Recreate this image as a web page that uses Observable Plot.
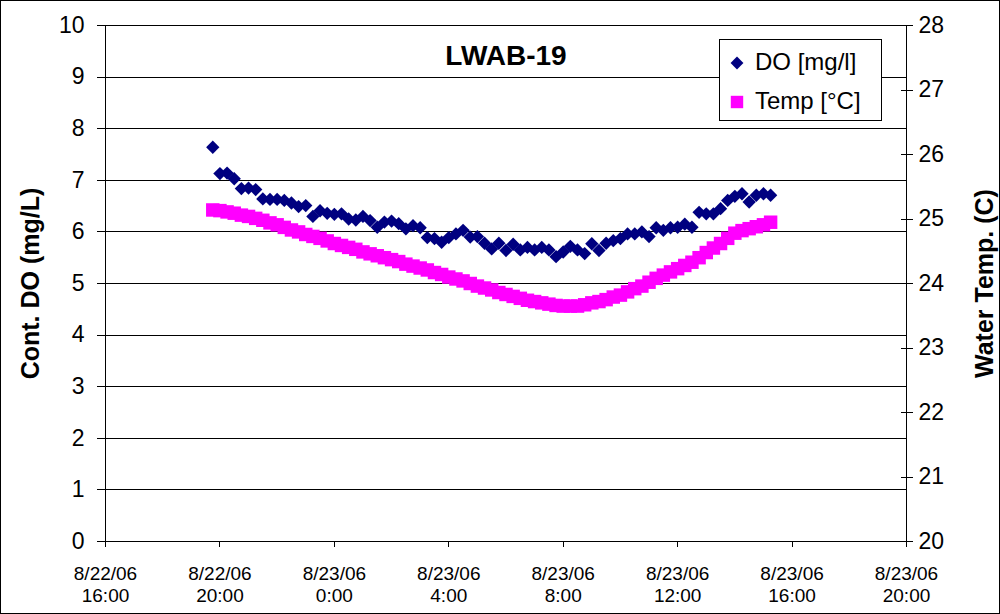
<!DOCTYPE html>
<html><head><meta charset="utf-8">
<script src="https://cdn.jsdelivr.net/npm/d3@7"></script>
<script src="https://cdn.jsdelivr.net/npm/@observablehq/plot@0.6"></script>
<style>
body{margin:0;background:#fff;}
#wrap{position:relative;width:1000px;height:614px;font-family:"Liberation Sans",Arial,sans-serif;overflow:hidden;}
#border{position:absolute;left:0;top:0;width:1000px;height:614px;box-sizing:border-box;border:1px solid #000;pointer-events:none;}
#legend{position:absolute;left:719px;top:39px;}
</style>
</head><body>
<div id="wrap"><div id="chart"></div>
<svg id="legend" width="164" height="83"></svg>
<div id="border"></div></div>
<script>
// ---- data ----
const chartTitle = "LWAB-19";
const seriesNames = ["DO [mg/l]", "Temp [°C]"];
const yLeftTitle = "Cont. DO (mg/L)";
const yRightTitle = "Water Temp. (C)";
const times = [
"2006-08-22T19:45","2006-08-22T20:00","2006-08-22T20:15","2006-08-22T20:30","2006-08-22T20:45",
"2006-08-22T21:00","2006-08-22T21:15","2006-08-22T21:30","2006-08-22T21:45","2006-08-22T22:00",
"2006-08-22T22:15","2006-08-22T22:30","2006-08-22T22:45","2006-08-22T23:00","2006-08-22T23:15",
"2006-08-22T23:30","2006-08-22T23:45",
"2006-08-23T00:00","2006-08-23T00:15","2006-08-23T00:30","2006-08-23T00:45",
"2006-08-23T01:00","2006-08-23T01:15","2006-08-23T01:30","2006-08-23T01:45",
"2006-08-23T02:00","2006-08-23T02:15","2006-08-23T02:30","2006-08-23T02:45",
"2006-08-23T03:00","2006-08-23T03:15","2006-08-23T03:30","2006-08-23T03:45",
"2006-08-23T04:00","2006-08-23T04:15","2006-08-23T04:30","2006-08-23T04:45",
"2006-08-23T05:00","2006-08-23T05:15","2006-08-23T05:30","2006-08-23T05:45",
"2006-08-23T06:00","2006-08-23T06:15","2006-08-23T06:30","2006-08-23T06:45",
"2006-08-23T07:00","2006-08-23T07:15","2006-08-23T07:30","2006-08-23T07:45",
"2006-08-23T08:00","2006-08-23T08:15","2006-08-23T08:30","2006-08-23T08:45",
"2006-08-23T09:00","2006-08-23T09:15","2006-08-23T09:30","2006-08-23T09:45",
"2006-08-23T10:00","2006-08-23T10:15","2006-08-23T10:30","2006-08-23T10:45",
"2006-08-23T11:00","2006-08-23T11:15","2006-08-23T11:30","2006-08-23T11:45",
"2006-08-23T12:00","2006-08-23T12:15","2006-08-23T12:30","2006-08-23T12:45",
"2006-08-23T13:00","2006-08-23T13:15","2006-08-23T13:30","2006-08-23T13:45",
"2006-08-23T14:00","2006-08-23T14:15","2006-08-23T14:30","2006-08-23T14:45",
"2006-08-23T15:00","2006-08-23T15:15"
];
const doValues = [
7.64,7.13,7.14,7.03,6.84,6.85,6.82,6.64,6.63,6.63,
6.61,6.56,6.49,6.51,6.30,6.41,6.36,6.34,6.35,6.25,
6.23,6.30,6.22,6.09,6.19,6.21,6.16,6.06,6.12,6.08,
5.89,5.87,5.80,5.89,5.96,6.03,5.90,5.91,5.78,5.67,
5.78,5.64,5.76,5.65,5.70,5.65,5.70,5.65,5.52,5.61,
5.72,5.65,5.58,5.77,5.64,5.78,5.83,5.87,5.96,5.96,
6.00,5.91,6.08,6.03,6.08,6.09,6.15,6.09,6.38,6.35,
6.35,6.45,6.61,6.69,6.74,6.58,6.71,6.74,6.71
];
const tempValues = [
25.14,25.13,25.11,25.09,25.06,25.04,25.01,24.98,24.94,24.91,
24.87,24.83,24.80,24.76,24.73,24.70,24.66,24.62,24.59,24.56,
24.53,24.49,24.46,24.43,24.40,24.37,24.34,24.30,24.27,24.24,
24.21,24.17,24.14,24.10,24.07,24.04,24.00,23.96,23.93,23.90,
23.86,23.83,23.80,23.77,23.74,23.72,23.70,23.68,23.66,23.65,
23.65,23.65,23.67,23.70,23.72,23.75,23.79,23.82,23.87,23.92,
23.96,24.02,24.08,24.13,24.18,24.23,24.28,24.33,24.40,24.48,
24.55,24.62,24.70,24.78,24.82,24.85,24.88,24.91,24.95
];
const xTickTimes = ["2006-08-22T16:00","2006-08-22T20:00","2006-08-23T00:00","2006-08-23T04:00",
"2006-08-23T08:00","2006-08-23T12:00","2006-08-23T16:00","2006-08-23T20:00"];
const xTickLabels = ["8/22/06\n16:00","8/22/06\n20:00","8/23/06\n0:00","8/23/06\n4:00",
"8/23/06\n8:00","8/23/06\n12:00","8/23/06\n16:00","8/23/06\n20:00"];
const doTicks = [0,1,2,3,4,5,6,7,8,9,10];
const tempTicks = [20,21,22,23,24,25,26,27,28];
const colors = ["#000080", "#FF00FF"];

// ---- build ----
const parse = d3.utcParse("%Y-%m-%dT%H:%M");
const tempMin = tempTicks[0], tempMax = tempTicks[tempTicks.length - 1];
const doMax = doTicks[doTicks.length - 1];
const tToY = t => (t - tempMin) * doMax / (tempMax - tempMin);
const data = times.map((t, i) => ({time: parse(t), DO: doValues[i], temp: tempValues[i]}));
const xTicks = xTickTimes.map(parse);
const xLabelMap = new Map(xTicks.map((d, i) => [+d, xTickLabels[i]]));
const tempPos = tempTicks.map(tToY);
const tempLabelMap = new Map(tempPos.map((p, i) => [p, String(tempTicks[i])]));
const font = "Liberation Sans, Arial, sans-serif";

const chart = Plot.plot({
  width: 1000, height: 614,
  marginLeft: 105, marginRight: 94, marginTop: 25, marginBottom: 73,
  style: {fontFamily: font, color: "#000", background: "transparent", overflow: "visible"},
  x: {type: "utc", domain: [xTicks[0], xTicks[xTicks.length - 1]]},
  y: {domain: [0, doMax]},
  marks: [
    Plot.ruleY(doTicks, {stroke: "#000", strokeWidth: 1, shapeRendering: "crispEdges"}),
    Plot.frame({stroke: "#000", strokeWidth: 1, shapeRendering: "crispEdges"}),
    Plot.axisY(doTicks, {anchor: "left", tickSize: 8, tickPadding: 13, fontSize: 23, label: null,
      tickFormat: d => String(d), shapeRendering: "crispEdges"}),
    Plot.axisY(tempPos, {anchor: "right", tickSize: 6, tickPadding: 6, fontSize: 23, label: null,
      tickFormat: d => tempLabelMap.get(d), shapeRendering: "crispEdges"}),
    Plot.axisY(tempPos, {anchor: "right", tickSize: -6, tickPadding: 0, label: null,
      tickFormat: () => "", shapeRendering: "crispEdges"}),
    Plot.axisX(xTicks, {anchor: "bottom", tickSize: 6, tickPadding: 17, fontSize: 19, lineHeight: 1.15,
      label: null, tickFormat: d => xLabelMap.get(+d), shapeRendering: "crispEdges"}),
    Plot.dot(data, {x: "time", y: d => tToY(d.temp), symbol: "square", r: 7.6, fill: colors[1], stroke: null}),
    Plot.dot(data, {x: "time", y: "DO", symbol: "diamond2", r: 6.0, fill: colors[0], stroke: null}),
    Plot.text([chartTitle], {frameAnchor: "top", lineAnchor: "top", dy: 20, fontSize: 28, fontWeight: "bold", fill: "#000"}),
    Plot.text([yLeftTitle], {frameAnchor: "left", textAnchor: "middle", lineAnchor: "middle", dx: -75, rotate: -90, fontSize: 25, fontWeight: "bold", fill: "#000"}),
    Plot.text([yRightTitle], {frameAnchor: "right", textAnchor: "middle", lineAnchor: "middle", dx: 78, rotate: -90, fontSize: 25, fontWeight: "bold", fill: "#000"})
  ]
});
document.getElementById("chart").appendChild(chart);

// legend (inside plot area, top right)
const lg = d3.select("#legend");
lg.append("rect").attr("x", 0.5).attr("y", 0.5).attr("width", 162).attr("height", 81)
  .attr("fill", "#fff").attr("stroke", "#000").attr("stroke-width", 1);
lg.append("path").attr("d", d3.symbol(d3.symbolDiamond2, 5.8 * 5.8 * Math.PI)()).attr("transform", "translate(18,24)").attr("fill", colors[0]);
lg.append("path").attr("d", d3.symbol(d3.symbolSquare, 7.0 * 7.0 * Math.PI)()).attr("transform", "translate(18,63)").attr("fill", colors[1]);
[30.5, 70].forEach((y, i) => {
  lg.append("text").attr("x", 36).attr("y", y).attr("font-family", font).attr("font-size", 24)
    .attr("fill", "#000").text(seriesNames[i]);
});
</script>
</body></html>
